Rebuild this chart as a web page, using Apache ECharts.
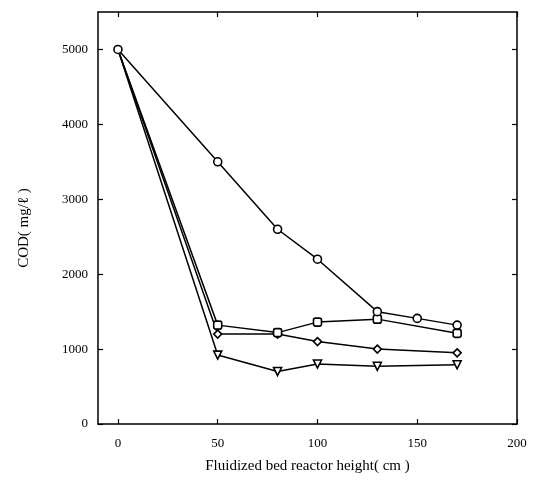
<!DOCTYPE html>
<html>
<head>
<meta charset="utf-8">
<script src="https://cdn.jsdelivr.net/npm/echarts@6/dist/echarts.min.js"></script>
<style>html,body{margin:0;padding:0;background:#fff}#c{width:538px;height:485px}</style>
</head>
<body>
<div id="c"></div>
<script>
const xTicks = [0, 50, 100, 150, 200];
const yTicks = [0, 1000, 2000, 3000, 4000, 5000];
const seriesCircle = [[0, 5000], [50, 3500], [80, 2600], [100, 2200], [130, 1500], [150, 1410], [170, 1320]];
const seriesSquare = [[0, 5000], [50, 1320], [80, 1220], [100, 1360], [130, 1400], [170, 1210]];
const seriesDiamond = [[0, 5000], [50, 1200], [80, 1200], [100, 1100], [130, 1000], [170, 950]];
const seriesTriangle = [[0, 5000], [50, 920], [80, 700], [100, 800], [130, 770], [170, 790]];

const font = 'Liberation Serif';
const chart = echarts.init(document.getElementById('c'), null, {renderer: 'canvas'});
const axisLine = {show: true, onZero: false, lineStyle: {color: '#000', width: 1.5}};
const tick = (vals) => ({show: true, inside: true, length: 5, customValues: vals, lineStyle: {color: '#000', width: 1.2}});
const mk = (data, symbol, size, hideFirst) => ({
  type: 'line', data,
  symbol: hideFirst ? (v, p) => (p.dataIndex === 0 ? 'none' : symbol) : symbol,
  symbolSize: size, showSymbol: true,
  lineStyle: {color: '#000', width: 1.5},
  itemStyle: {color: '#fff', borderColor: '#000', borderWidth: 1.6},
  animation: false
});
chart.setOption({
  animation: false,
  backgroundColor: '#fff',
  grid: {left: 98, right: 21, top: 12, bottom: 61},
  xAxis: [{
    type: 'value', min: -10, max: 200,
    axisLine, axisTick: tick(xTicks), splitLine: {show: false},
    axisLabel: {customValues: xTicks, formatter: v => String(v), color: '#000', fontFamily: font, fontSize: 13, margin: 13},
    name: 'Fluidized bed reactor height( cm )', nameLocation: 'middle', nameGap: 35,
    nameTextStyle: {color: '#000', fontFamily: font, fontSize: 15}
  }, {
    type: 'value', min: -10, max: 200, position: 'top',
    axisLine, axisTick: tick(xTicks), axisLabel: {show: false}, splitLine: {show: false}
  }],
  yAxis: [{
    type: 'value', min: 0, max: 5500,
    axisLine, axisTick: tick(yTicks), splitLine: {show: false},
    axisLabel: {customValues: yTicks, formatter: v => String(v), color: '#000', fontFamily: font, fontSize: 13, margin: 10},
    name: 'COD( mg/ℓ )', nameLocation: 'middle', nameGap: 66, nameRotate: 90,
    nameTextStyle: {color: '#000', fontFamily: font, fontSize: 15, padding: [0, 20, 0, 0]}
  }, {
    type: 'value', min: 0, max: 5500, position: 'right',
    axisLine, axisTick: tick(yTicks), axisLabel: {show: false}, splitLine: {show: false}
  }],
  series: [
    Object.assign(mk(seriesTriangle, 'triangle', 8, true), {symbolRotate: 180}),
    mk(seriesDiamond, 'diamond', 8, true),
    mk(seriesSquare, 'roundRect', 8, true),
    mk(seriesCircle, 'circle', 8, false)
  ]
});
</script>
</body>
</html>
